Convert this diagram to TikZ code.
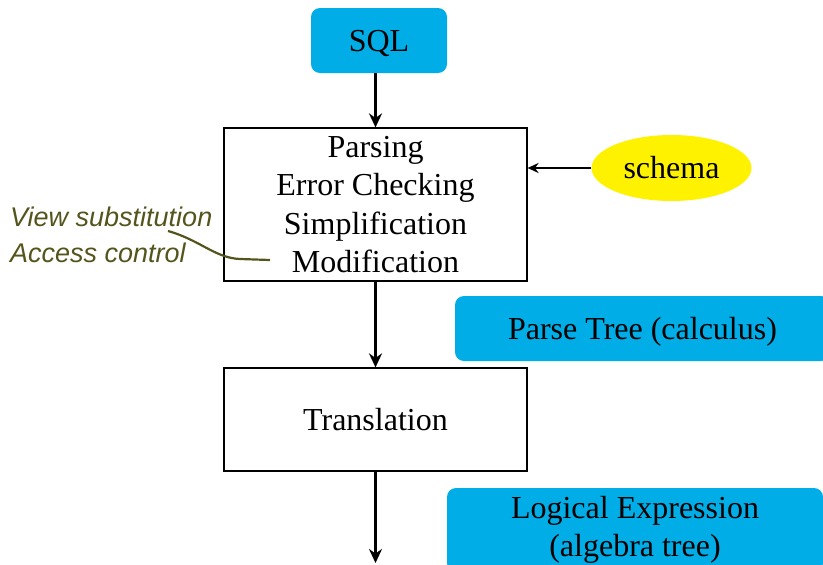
\documentclass[tikz,border=0pt]{standalone}
\usepackage{fontspec}
\setmainfont{Liberation Serif}
\newfontfamily\handfont{Liberation Sans}
\usetikzlibrary{arrows.meta,shapes.geometric}
\definecolor{boxblue}{RGB}{0,173,230}
\definecolor{schemayellow}{RGB}{255,242,0}
\definecolor{penolive}{RGB}{84,84,28}

\begin{document}
\begin{tikzpicture}[x=1pt,y=-1pt,
  every node/.style={font=\fontsize{32}{38.5}\selectfont,inner sep=0pt,align=center},
  stagebox/.style={draw,line width=1.2pt,minimum width=303,minimum height=153},
  databox/.style={fill=boxblue,rounded corners=9pt},
  flow/.style={line width=3pt,-{Stealth[length=14pt,width=13pt]}},
  thinflow/.style={line width=2.5pt,-{Stealth[length=11pt,width=10pt]}}]
\useasboundingbox (0,0) rectangle (823,565);
\node[databox,text depth=0pt,minimum width=136,minimum height=65] (sql) at (379,40.5) {SQL};
\node[stagebox] (check) at (375.5,204.5) {Parsing\\Error Checking\\Simplification\\Modification};
\node[ellipse,fill=schemayellow,minimum width=160,minimum height=66] (schema) at (671.5,168) {schema};
\node[databox,text depth=0pt,minimum width=375,minimum height=65] (parse) at (642.5,328.5) {Parse Tree (calculus)};
\node[stagebox,minimum height=103] (trans) at (375.5,419.5) {Translation};
\node[databox,minimum width=376,minimum height=84] (logic) at (635,530) {Logical Expression\\(algebra tree)};
\coordinate (out) at (375.5,563);
\draw[flow] (sql.south -| check.north) -- (check.north);
\draw[thinflow] (schema.west) -- (check.east |- schema.west);
\draw[flow] (check.south) -- (trans.north);
\draw[flow] (trans.south) -- (out);
% pen note beside the checking box
\node[penolive,anchor=west,font=\handfont\itshape\fontsize{27}{36}\selectfont,align=left] (note) at (10,235) {View substitution\\Access control};
\draw[penolive,line width=2.2pt] (168,231) .. controls (200,240) and (215,258) .. (240,259) -- (270,260);
\end{tikzpicture}
\end{document}
